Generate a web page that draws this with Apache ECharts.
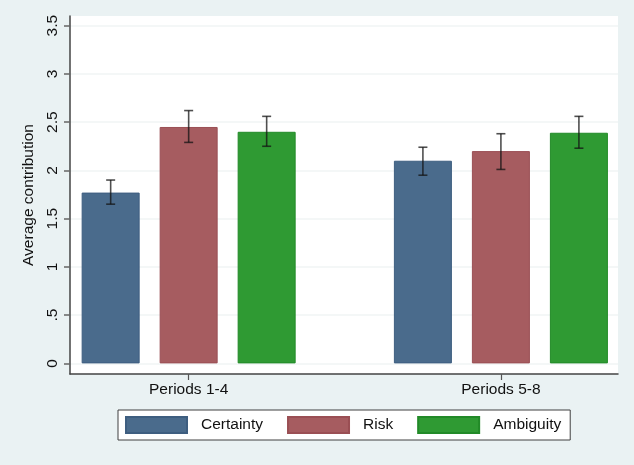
<!DOCTYPE html>
<html>
<head>
<meta charset="utf-8">
<script src="https://cdn.jsdelivr.net/npm/echarts@6/dist/echarts.min.js"></script>
<style>
  html, body { margin: 0; padding: 0; background: #EAF2F3; }
  #chart { width: 634px; height: 465px; }
</style>
</head>
<body>
<div id="chart"></div>
<script>
// Contribution by information condition, early and late periods
const periods = ['Periods 1-4', 'Periods 5-8'];
const conditions = ['Certainty', 'Risk', 'Ambiguity'];

// Mean contribution per period block
const certaintyMean = [1.77, 2.10];
const riskMean      = [2.45, 2.20];
const ambiguityMean = [2.40, 2.39];

// Confidence interval bounds
const certaintyLow  = [1.65, 1.95];
const certaintyHigh = [1.90, 2.24];
const riskLow       = [2.29, 2.01];
const riskHigh      = [2.62, 2.38];
const ambiguityLow  = [2.25, 2.23];
const ambiguityHigh = [2.56, 2.56];

const yTicks = [0, 0.5, 1, 1.5, 2, 2.5, 3, 3.5];
const yTickLabels = ['0', '.5', '1', '1.5', '2', '2.5', '3', '3.5'];

const means = [certaintyMean, riskMean, ambiguityMean];
const lows = [certaintyLow, riskLow, ambiguityLow];
const highs = [certaintyHigh, riskHigh, ambiguityHigh];
const colors = ['#4A6B8C', '#A65C60', '#2F9A33'];
const borders = ['#3E5E80', '#9A4F54', '#228A28'];

const BAR_W = 58;
const BAR_GAP = 20;
const FONT = '"Liberation Sans", Arial, sans-serif';
const positions = periods.map((_, i) => i + 1);

const barSeries = conditions.map((name, s) => ({
  type: 'bar',
  name: name,
  barWidth: BAR_W,
  barGap: (BAR_GAP / BAR_W * 100) + '%',
  itemStyle: { color: colors[s], borderColor: borders[s], borderWidth: 1 },
  data: positions.map((x, i) => [x, means[s][i]]),
  z: 2
}));

const errorSeries = conditions.map((name, s) => ({
  type: 'custom',
  name: name + ' CI',
  z: 5,
  data: positions.map((x, i) => [x, lows[s][i], highs[s][i]]),
  renderItem: function (params, api) {
    const off = (s - 1) * (BAR_W + BAR_GAP);
    const lo = api.coord([api.value(0), api.value(1)]);
    const hi = api.coord([api.value(0), api.value(2)]);
    const cx = lo[0] + off;
    const cap = 4.5;
    const style = { stroke: 'rgba(20,20,20,0.75)', lineWidth: 1.6 };
    return {
      type: 'group',
      children: [
        { type: 'line', shape: { x1: cx, y1: lo[1], x2: cx, y2: hi[1] }, style: style },
        { type: 'line', shape: { x1: cx - cap, y1: lo[1], x2: cx + cap, y2: lo[1] }, style: style },
        { type: 'line', shape: { x1: cx - cap, y1: hi[1], x2: cx + cap, y2: hi[1] }, style: style }
      ]
    };
  }
}));

const chart = echarts.init(document.getElementById('chart'), null, { renderer: 'canvas' });
chart.setOption({
  backgroundColor: '#EAF2F3',
  animation: false,
  textStyle: { fontFamily: FONT },
  grid: {
    left: 70, right: 16, top: 16, bottom: 91,
    show: true, backgroundColor: '#FFFFFF', borderWidth: 0
  },
  legend: {
    data: conditions,
    left: 118, top: 410,
    padding: [6, 9, 6, 7],
    itemWidth: 61, itemHeight: 16, itemGap: 24,
    icon: 'rect',
    backgroundColor: '#FFFFFF',
    borderColor: '#404040', borderWidth: 1,
    textStyle: { fontFamily: FONT, fontSize: 15.5, color: '#111', padding: [0, 0, 0, 9] }
  },
  xAxis: {
    type: 'value',
    min: 0.62, max: 2.375,
    axisLine: { show: true, onZero: false, lineStyle: { color: '#444', width: 1.5 } },
    axisTick: { show: true, customValues: positions, length: 6, lineStyle: { color: '#555', width: 1.2 } },
    axisLabel: {
      customValues: positions,
      formatter: v => periods[Math.round(v) - 1] || '',
      fontFamily: FONT, fontSize: 15.5, color: '#111', margin: 8
    },
    splitLine: { show: false }
  },
  yAxis: {
    type: 'value',
    min: -0.11, max: 3.6,
    name: 'Average contribution',
    nameLocation: 'middle',
    nameGap: 33,
    nameTextStyle: { fontFamily: FONT, fontSize: 15.5, color: '#111' },
    axisLine: { show: true, onZero: false, lineStyle: { color: '#444', width: 1.5 } },
    axisTick: { show: true, customValues: yTicks, length: 6, lineStyle: { color: '#666', width: 1.5 } },
    axisLabel: {
      customValues: yTicks,
      rotate: 90,
      formatter: v => yTickLabels[yTicks.indexOf(Math.round(v * 10) / 10)],
      fontFamily: FONT, fontSize: 15.5, color: '#111', margin: 9
    },
    splitLine: { show: true, customValues: yTicks, lineStyle: { color: '#F0F5F5', width: 1.5 } }
  },
  series: barSeries.concat(errorSeries)
});
</script>
</body>
</html>
